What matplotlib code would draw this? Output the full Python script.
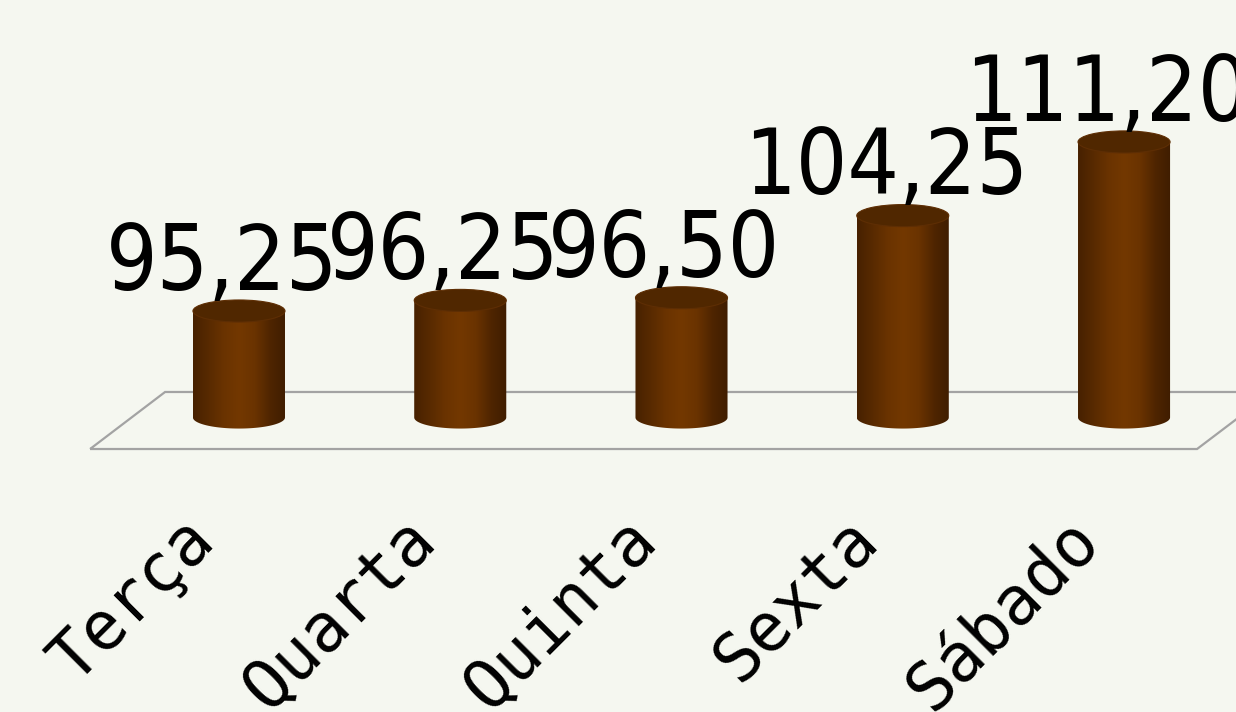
import numpy as np
import matplotlib
matplotlib.use("Agg")
import matplotlib.pyplot as plt
from matplotlib.patches import Ellipse, PathPatch, Polygon
from matplotlib.path import Path
from matplotlib.colors import LinearSegmentedColormap
from matplotlib import font_manager

categories = ["Terça", "Quarta", "Quinta", "Sexta", "Sábado"]
values = [95.25, 96.25, 96.50, 104.25, 111.20]
labels = ["95,25", "96,25", "96,50", "104,25", "111,20"]

BG = "#F5F7F0"
base = 85.2
half_w = 0.208
ry = 1.04

# pick label font
cond = [f for f in font_manager.fontManager.ttflist
        if f.name == "DejaVu Sans" and "Condensed" in f.fname]
names = {f.name for f in font_manager.fontManager.ttflist}
if cond:
    label_font = dict(family="DejaVu Sans", stretch="condensed", size=65)
elif "Liberation Sans Narrow" in names:
    label_font = dict(family="Liberation Sans Narrow", size=70)
else:
    label_font = dict(family="DejaVu Sans", size=58)

fig = plt.figure(figsize=(12.36, 7.12), dpi=100)
fig.patch.set_facecolor(BG)
ax = fig.add_axes([0, 0, 1, 1])
ax.set_facecolor(BG)
ax.axis("off")

# floor parallelogram
floor_front, floor_back = 82.23, 87.61
floor = Polygon([(-0.673, floor_front), (4.33, floor_front), (4.67, floor_back), (-0.334, floor_back)],
                closed=True, facecolor="none", edgecolor="#A3A3A3", lw=1.6, zorder=1)
ax.add_patch(floor)

cmap = LinearSegmentedColormap.from_list(
    "cyl", ["#472100", "#582a00", "#6a3300", "#733800", "#6a3300", "#4f2500", "#3f1d00"])
grad = np.linspace(0, 1, 256).reshape(1, -1)

for i, (v, lab) in enumerate(zip(values, labels)):
    c = i
    t = np.linspace(np.pi, 2 * np.pi, 60)
    pts = [(c - half_w, v), (c - half_w, base)]
    pts += [(c + half_w * np.cos(a), base + ry * np.sin(a)) for a in t]
    pts += [(c + half_w, v), (c - half_w, v)]
    codes = [Path.MOVETO] + [Path.LINETO] * (len(pts) - 2) + [Path.CLOSEPOLY]
    body = PathPatch(Path(pts, codes), facecolor="none", edgecolor="none", zorder=2)
    ax.add_patch(body)
    im = ax.imshow(grad, cmap=cmap, extent=(c - half_w, c + half_w, base - ry, v),
                   aspect="auto", zorder=2, interpolation="bilinear")
    im.set_clip_path(body)
    top = Ellipse((c, v), 2 * half_w, 2 * ry, facecolor="#502700", edgecolor="#5e2e04",
                  lw=0.8, zorder=3)
    ax.add_patch(top)
    ax.text(c - 0.077, v + 2.0, lab, ha="center", va="baseline", color="black",
            zorder=4, **label_font)

for i, cat in enumerate(categories):
    ax.text(i - 0.10, 73.4, cat, rotation=45, rotation_mode="anchor",
            ha="right", va="baseline", family="DejaVu Sans Mono", size=48, color="black")

ax.set_xlim(-1.080, 4.506)
ax.set_ylim(57.42, 124.59)
ax.set_aspect("auto")

fig.savefig("out.png", dpi=100, facecolor=BG)
